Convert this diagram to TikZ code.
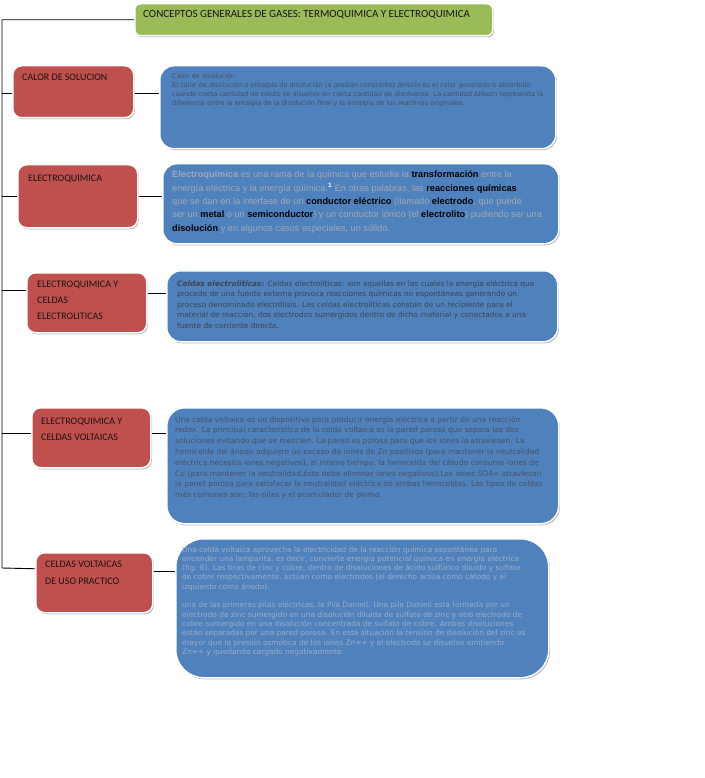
\documentclass[tikz,border=0pt]{standalone}
\usepackage{fontspec}
\setmainfont{Carlito}
\newfontfamily\verd{DejaVu Sans}
\newfontfamily\arialf{Liberation Sans}
\usetikzlibrary{shadows}
\definecolor{redbox}{RGB}{192,80,77}
\definecolor{bluebox}{RGB}{79,129,189}
\definecolor{greenbox}{RGB}{155,187,89}
\definecolor{txtA}{RGB}{70,80,98}
\definecolor{txtB}{RGB}{160,168,182}
\definecolor{txtC}{RGB}{62,68,80}
\definecolor{txtD}{RGB}{72,82,100}
\definecolor{txtE}{RGB}{158,172,195}
\definecolor{lbl}{RGB}{25,20,20}
\tikzset{
  boxbase/.style={draw=white, line width=1.5pt, anchor=north west, inner sep=0pt,
    drop shadow={shadow xshift=1.2pt, shadow yshift=-1.5pt, fill=gray!55, opacity=1}},
  redb/.style={boxbase, fill=redbox, rounded corners=9pt},
  blueb/.style={boxbase, fill=bluebox},
  greenb/.style={boxbase, fill=greenbox, rounded corners=6pt},
  lbltext/.style={anchor=base west, inner sep=0pt, text=lbl, font=\fontsize{10}{16}\selectfont},
  bodytext/.style={anchor=base west, inner sep=0pt},
  conn/.style={draw=black, line width=0.9pt}
}
\newcommand{\bk}[1]{{\color{black}\textbf{#1}}}
\begin{document}
\begin{tikzpicture}[x=1pt,y=-1pt]
\useasboundingbox (0,0) rectangle (704,778);
\fill[white] (0,0) rectangle (704,778);

% title
\node[greenb, minimum width=358pt, minimum height=32pt] (top) at (134,3) {};
\node[lbltext, font=\fontsize{11}{16}\selectfont] (topt) at (143,18) {CONCEPTOS GENERALES DE GASES: TERMOQUIMICA Y ELECTROQUIMICA};

% red boxes
\node[redb, minimum width=121pt, minimum height=52pt] (r1) at (12,65) {};
\node[redb, minimum width=120pt, minimum height=63pt] (r2) at (17,164) {};
\node[redb, minimum width=120pt, minimum height=60pt] (r3) at (26,272) {};
\node[redb, minimum width=119pt, minimum height=60pt] (r4) at (31,407) {};
\node[redb, minimum width=117pt, minimum height=60pt] (r5) at (35,552) {};

\node[lbltext] (r1t) at (22,81) {CALOR DE SOLUCION};
\node[lbltext] (r2t) at (28,181) {ELECTROQUIMICA};
\node[lbltext] (r3t) at (37,287) {\parbox[t]{110pt}{ELECTROQUIMICA Y\\CELDAS\\ELECTROLITICAS}};
\node[lbltext] (r4t) at (41,424) {\parbox[t]{110pt}{ELECTROQUIMICA Y\\CELDAS VOLTAICAS}};
\node[lbltext] (r5t) at (45,567) {\parbox[t]{110pt}{\baselineskip=17pt CELDAS VOLTAICAS\\DE USO PRACTICO}};

% blue boxes
\node[blueb, rounded corners=14pt, minimum width=396pt, minimum height=83pt] (b1) at (159,65) {};
\node[blueb, rounded corners=14pt, minimum width=396pt, minimum height=80pt] (b2) at (162,163) {};
\node[blueb, rounded corners=14pt, minimum width=391pt, minimum height=71pt] (b3) at (166,270) {};
\node[blueb, rounded corners=18pt, minimum width=392pt, minimum height=116pt] (b4) at (166,407) {};
\node[blueb, rounded corners=28pt, minimum width=373pt, minimum height=139pt] (b5) at (175,538) {};

\node[bodytext, text=txtA] (b1t) at (172,79) {\parbox[t]{390pt}{\verd\fontsize{6.6}{8.8}\selectfont
Calor de disolución\\
El calor de disolución o entalpía de disolución (a presión constante) ΔHsoln es el calor generado o absorbido\\
cuando cierta cantidad de soluto se disuelve en cierta cantidad de disolvente. La cantidad ΔHsoln representa la\\
diferencia entre la entalpía de la disolución final y la entalpía de los reactivos originales.}};

\node[bodytext, text=txtB] (b2t) at (172,178) {\parbox[t]{390pt}{\arialf\fontsize{9.2}{13.3}\selectfont
\textbf{Electroquímica} es una rama de la química que estudia la \bk{transformación} entre la\\
energía eléctrica y la energía química.\textsuperscript{\textbf{\color{white}1}} En otras palabras, las \bk{reacciones químicas}\\
que se dan en la interfase de un \bk{conductor eléctrico} (llamado \bk{electrodo}, que puede\\
ser un \bk{metal} o un \bk{semiconductor}) y un conductor iónico (el \bk{electrolito}) pudiendo ser una\\
\bk{disolución} y en algunos casos especiales, un sólido.}};

\node[bodytext, text=txtC] (b3t) at (177,286) {\parbox[t]{390pt}{\verd\fontsize{7.4}{10.6}\selectfont
\textbf{\textit{Celdas electrolíticas:}} Celdas electrolíticas: son aquellas en las cuales la energía eléctrica que\\
procede de una fuente externa provoca reacciones químicas no espontáneas generando un\\
proceso denominado electrólisis. Las celdas electrolíticas constan de un recipiente para el\\
material de reacción, dos electrodos sumergidos dentro de dicho material y conectados a una\\
fuente de corriente directa.}};

\node[bodytext, text=txtD] (b4t) at (175,422) {\parbox[t]{390pt}{\verd\fontsize{7.5}{10.8}\selectfont
Una celda voltaica es un dispositivo para producir energía eléctrica a partir de una reacción\\
redox. La principal característica de la celda voltaica es la pared porosa que separa las dos\\
soluciones evitando que se mezclen. La pared es porosa para que los iones la atraviesen. La\\
hemicelda del ánodo adquiere un exceso de iones de Zn positivos (para mantener la neutralidad\\
eléctrica necesita iones negativos), al mismo tiempo, la hemicelda del cátodo consume iones de\\
Cu (para mantener la neutralidad,éste debe eliminar iones negativos).Los iones SO4= atraviesan\\
la pared porosa para satisfacer la neutralidad eléctrica de ambas hemiceldas. Los tipos de celdas\\
más comunes son: las pilas y el acumulador de plomo.}};

\node[bodytext, text=txtE] (b5t) at (182,552) {\parbox[t]{380pt}{\verd\fontsize{7.4}{9.3}\selectfont
Una celda voltaica aprovecha la electricidad de la reacción química espontánea para\\
encender una lamparita, es decir, convierte energía potencial química en energía eléctrica\\
(fig. 6). Las tiras de cinc y cobre, dentro de disoluciones de ácido sulfúrico diluido y sulfato\\
de cobre respectivamente, actúan como electrodos (el derecho actúa como cátodo y el\\
izquierdo como ánodo).\\[9.3pt]
una de las primeras pilas eléctricas, la Pila Daniell. Una pila Daniell está formada por un\\
electrodo de zinc sumergido en una disolución diluida de sulfato de zinc y otro electrodo de\\
cobre sumergido en una disolución concentrada de sulfato de cobre. Ambas disoluciones\\
están separadas por una pared porosa. En esta situación la tensión de disolución del zinc es\\
mayor que la presión osmótica de los iones Zn++ y el electrodo se disuelve emitiendo\\
Zn++ y quedando cargado negativamente.}};

% connectors
\coordinate (sp) at (2,568);
\draw[conn] (top.west) -| (sp) -- ([yshift=14pt]r5.west);
\coordinate (c1) at ([yshift=-2pt]r1.west);
\coordinate (c2) at (r2.west);
\coordinate (c3) at ([yshift=12pt]r3.west);
\coordinate (c4) at ([yshift=4pt]r4.west);
\draw[conn] (c1) -- (c1 -| sp);
\draw[conn] (c2) -- (c2 -| sp);
\draw[conn] (c3) -- (c3 -| sp);
\draw[conn] (c4) -- (c4 -| sp);
\coordinate (d1) at ([yshift=-2pt]r1.east);
\coordinate (d2) at (r2.east);
\coordinate (d3) at ([yshift=9pt]r3.east);
\coordinate (d4) at ([yshift=4pt]r4.east);
\coordinate (d5) at ([yshift=11pt]r5.east);
\draw[conn] (d1) -- (d1 -| b1.west);
\draw[conn] (d2) -- (d2 -| b2.west);
\draw[conn] (d3) -- (d3 -| b3.west);
\draw[conn] (d4) -- (d4 -| b4.west);
\draw[conn] (d5) -- (d5 -| b5.west);
\end{tikzpicture}
\end{document}
